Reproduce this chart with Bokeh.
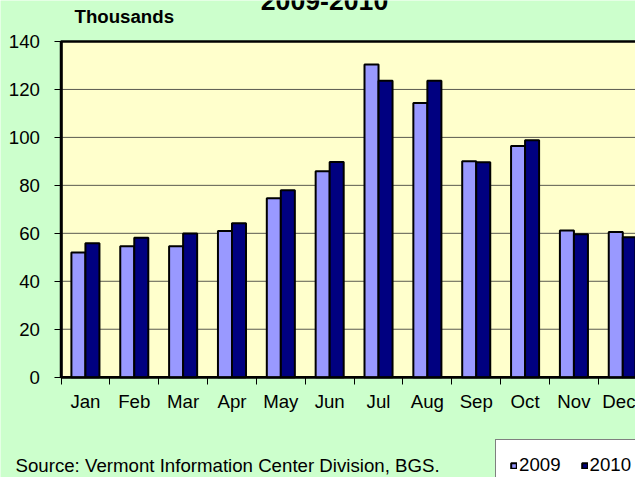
from bokeh.plotting import figure
from bokeh.models import (Range1d, FixedTicker, Label, Legend, LegendItem, ColumnDataSource)
from bokeh.transform import dodge
from bokeh.embed import file_html
from bokeh.resources import INLINE

months = ["Jan", "Feb", "Mar", "Apr", "May", "Jun", "Jul", "Aug", "Sep", "Oct", "Nov", "Dec"]
v2009 = [52.0, 54.6, 54.6, 61.0, 74.6, 85.9, 130.4, 114.3, 90.1, 96.4, 61.2, 60.5]
v2010 = [55.9, 58.1, 59.9, 64.2, 78.0, 89.7, 123.6, 123.6, 89.6, 98.8, 59.6, 58.4]
yticks = [0, 20, 40, 60, 80, 100, 120, 140]
title_text = "2009-2010"
unit_text = "Thousands"
source_text = "Source: Vermont Information Center Division, BGS."

FONT = "Liberation Sans"
n = len(months)
ymax = yticks[-1]
pos = [i + 0.5 for i in range(n)]
src = ColumnDataSource(dict(x=pos, a=v2009, b=v2010))

# whole canvas is the frame; plot area is drawn at data 0..n, 0..ymax
p = figure(width=635, height=477, x_range=Range1d(-1.2385, 11.7605),
           y_range=Range1d(-41.83, 157.09),
           output_backend="svg", toolbar_location=None, title=None,
           min_border_left=0, min_border_right=0, min_border_top=0, min_border_bottom=0)
p.border_fill_color = "#ccffcc"
p.background_fill_color = "#ccffcc"
p.outline_line_color = None
p.grid.visible = False

# plot area
p.quad(left=0, right=n, bottom=0, top=ymax, fill_color="#ffffcc",
       line_color="black", line_width=2.5)
gsrc = ColumnDataSource(dict(y=yticks[1:-1]))
p.segment(x0=0, x1=n, y0="y", y1="y", source=gsrc, line_color="#5a5a50", line_width=1)

bw = 0.287
r1 = p.vbar(x=dodge("x", -bw / 2, range=p.x_range), top="a", width=bw, source=src,
            fill_color="#9999ff", line_color="black", line_width=2)
r2 = p.vbar(x=dodge("x", bw / 2, range=p.x_range), top="b", width=bw, source=src,
            fill_color="#000080", line_color="black", line_width=2)

# y axis at x = 0
ya = p.yaxis[0]
ya.fixed_location = 0
ya.bounds = (0, ymax)
ya.ticker = FixedTicker(ticks=yticks)
ya.axis_line_color = "black"
ya.axis_line_width = 2.5
ya.major_tick_line_color = "black"
ya.major_tick_out = 7
ya.major_tick_in = 0
ya.minor_tick_line_color = None
ya.major_label_standoff = 14
ya.major_label_text_font = FONT
ya.major_label_text_font_size = "14pt"
ya.major_label_text_color = "black"

# x axis at y = 0
xa = p.xaxis[0]
xa.fixed_location = 0
xa.bounds = (0, n)
xa.ticker = FixedTicker(ticks=pos, minor_ticks=list(range(n + 1)))
xa.major_label_overrides = {float(x): m for x, m in zip(pos, months)}
xa.axis_line_color = "black"
xa.axis_line_width = 2
xa.major_tick_line_color = None
xa.major_tick_out = 0
xa.major_tick_in = 0
xa.minor_tick_line_color = "black"
xa.minor_tick_out = 7
xa.minor_tick_in = 0
xa.major_label_standoff = 7
xa.major_label_text_font = FONT
xa.major_label_text_font_size = "14pt"
xa.major_label_text_color = "black"

p.add_layout(Label(x=5.394, y=157.05, text=title_text, text_font=FONT, text_font_style="bold",
                   text_font_size="20pt", text_align="center", text_baseline="alphabetic",
                   text_color="black"))
p.add_layout(Label(x=0.2764, y=150.29, text=unit_text, text_font=FONT, text_font_style="bold",
                   text_font_size="14pt", text_align="left", text_baseline="alphabetic",
                   text_color="black"))
p.add_layout(Label(x=-0.9314, y=-36.70, text=source_text, text_font=FONT,
                   text_font_size="14pt", text_align="left", text_baseline="alphabetic",
                   text_color="black"))

legend = Legend(items=[LegendItem(label="2009", renderers=[r1]),
                       LegendItem(label="2010", renderers=[r2])],
                location=(495, -14), orientation="horizontal",
                glyph_width=7, glyph_height=7, label_standoff=2, spacing=20,
                padding=14, margin=0, label_height=16,
                label_text_font=FONT, label_text_font_size="14pt", label_text_color="black",
                border_line_color="black", border_line_width=1,
                background_fill_color="white", background_fill_alpha=1)
p.add_layout(legend, "center")

open("out.html", "w").write(file_html(p, INLINE))
